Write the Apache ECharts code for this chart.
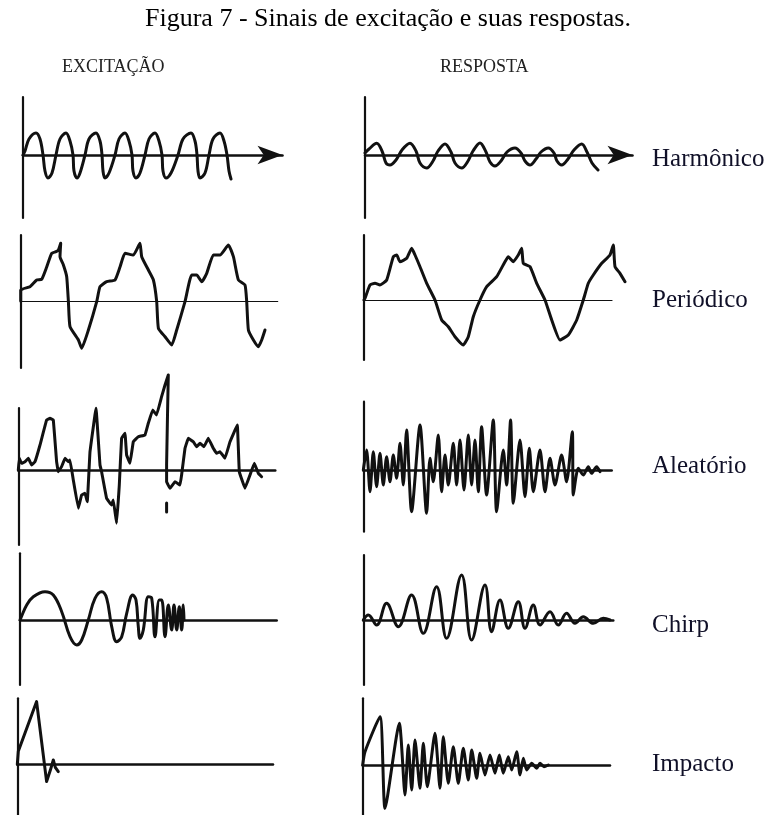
<!DOCTYPE html>
<html>
<head>
<meta charset="utf-8">
<script src="https://cdn.jsdelivr.net/npm/echarts@6/dist/echarts.min.js"></script>
<style>
html,body{margin:0;padding:0;background:#fff;}
#chart{width:773px;height:815px;}
</style>
</head>
<body>
<div id="chart"></div>
<script>
// ---- texts ----
var figureTitle = 'Figura 7 - Sinais de excitação e suas respostas.';
var columnHeaders = ['EXCITAÇÃO', 'RESPOSTA'];
var signalNames = ['Harmônico', 'Periódico', 'Aleatório', 'Chirp', 'Impacto'];

// ---- digitized signals: [time, amplitude] (arbitrary units) ----
var excHarmonic = [[0,0],[2,4],[6,16],[13,22],[17,16],[20,0],[22,-16],[25,-23],[29,-18],[33,0],[37,16],[43,22],[47,14],[50,0],[51,-16],[54,-23],[57,-18],[62,0],[66,16],[73,22],[77,14],[79,0],[80,-16],[82,-23],[86,-18],[92,0],[96,16],[102,22],[106,14],[109,0],[110,-16],[113,-23],[117,-18],[122,0],[126,16],[132,22],[136,14],[139,0],[140,-16],[143,-23],[148,-18],[155,0],[160,16],[168,22],[172,14],[174,0],[175,-16],[177,-23],[182,-18],[186,0],[190,16],[197,22],[201,14],[204,0],[206,-16],[208,-24]];
var resHarmonic = [[0,2],[4,6],[11.7,11.7],[17,4],[21,-8],[25,-10],[31,-5],[37,5],[45,11.7],[51,4],[55,-8],[61.7,-13],[68,-6],[73,4],[80,11],[86,3],[90,-8],[96.7,-13],[103,-6],[108,4],[115,12],[121,3],[125,-7],[130,-11],[136,-6],[142,3],[150,7],[156,2],[160,-6],[165,-10],[171,-4],[176,3],[183.3,7],[189,2],[192,-6],[196.7,-10],[203,-4],[209,5],[216.7,11],[222,3],[227,-8],[233,-15]];

var excPeriodic = [[0,0],[0,11],[9.3,14.3],[16,21],[21,21.7],[26,34],[31,47.7],[35.3,49.3],[37.7,51],[40,57.7],[39.3,44.3],[42.7,36],[46,24.3],[47.7,-0.7],[49.3,-25.7],[57.7,-39],[61,-47.3],[67.7,-29],[76,-0.7],[79.3,14.3],[86,19.3],[94.3,21],[99.3,34],[104.3,47.7],[112.7,46],[119.3,57.7],[121,44.3],[127.7,31],[132.7,21],[136,-0.7],[137.7,-27.3],[144.3,-35.7],[151,-44],[156,-29],[164.3,-0.7],[171,26],[176,26],[181,19.3],[186,27.7],[192.7,46],[199.3,46],[207.7,56],[212.7,44.3],[217.7,21],[224.3,16],[226,-0.7],[227.7,-29],[232.7,-39],[237.7,-45.7],[241,-39],[244.3,-29]];
var resPeriodic = [[0,0],[1,1.7],[6,15],[11,16.7],[16,15],[22.7,20],[29.3,43.3],[32.7,45],[36,38.3],[42.7,41.7],[47.7,51.7],[51,45],[56,33.3],[62.7,16.7],[71,0],[77.7,-20],[84.3,-26.7],[91,-36.7],[99.3,-45],[104.3,-36.7],[109.3,-16.7],[116,0],[122.7,13.3],[132.7,23.3],[141,38.3],[144.3,43.3],[149.3,38.3],[154.3,45],[157.7,51.7],[159.3,36.7],[166,33.3],[172.7,16.7],[181,0],[187.7,-20],[196,-40],[204.3,-35],[212.7,-20],[219.3,0],[224.3,16.7],[229.3,25],[237.7,36.7],[246,45],[249.3,55],[251,33.3],[256,26.7],[261,18.3]];

var excRandom = [[0,0],[1,11.7],[3.3,6.7],[6.7,8.3],[10,11.7],[13.3,5],[16.7,8.3],[21.7,25],[28.3,50],[31.7,51.7],[35,50],[38.3,8.3],[40,-1.7],[43.3,3.3],[46.7,11.7],[50,8.3],[51.7,10],[55,-10],[60,-38.3],[63.3,-25],[66.7,-23.3],[69,-31.7],[71.7,18.3],[77.7,61.7],[81.7,5],[83.3,-1.7],[88.3,-28.3],[93.3,-35],[95,-30],[98.3,-53.3],[101,-15],[103.3,31.7],[106.7,36.7],[108.3,15],[111.7,6.7],[115,28.3],[120,33.3],[126.7,35],[130,46.7],[134.3,60],[138.3,55],[143.3,73.3],[146.7,85],[150,95],[148.3,5],[148.3,-11.7],[151.7,-18.3],[156.7,-11.7],[161.7,-15],[163.3,-5],[166.7,21.7],[170,31.7],[175,28.3],[178.3,23.3],[181.7,26.7],[185.7,23.3],[190,31.7],[195,21.7],[198.3,16.7],[201.7,18.3],[206.7,11.7],[211.7,28.3],[219,45],[221,-1.7],[226.7,-18.3],[231.7,-5],[236,6.7],[240,-3.3],[243.3,-6.7]];
var excRandomFragment = [[148.3,-33],[148.3,-42]];
var resRandom = [[0,0],[3.3,20],[6.7,-21.7],[10,18.3],[13.3,-16.7],[16.7,16.7],[20,-15],[23.3,13.3],[26.7,-11.7],[30,15],[33.3,-8.3],[36.7,26.7],[40,-15],[43.3,40],[48.3,-41.7],[56.7,45],[63.3,-43.3],[66.7,11.7],[70,-11.7],[75,35],[78.3,-21.7],[81.7,15],[85,-15],[90,26.7],[93.3,-15],[96.7,30],[100.7,-20],[105,35],[108.3,-15],[111.7,30],[115,-21.7],[118.3,43.3],[123.3,-25],[130,50],[133.3,-41.7],[140,20],[143.3,-15],[147.3,50],[150,-33.3],[156.7,30],[161.7,-26.7],[166,21.7],[170,-21.7],[176.7,20],[181.7,-21.7],[186.7,11.7],[191.7,-15],[198.3,15],[203.3,-11.7],[209,38.3],[210,-25],[215,1.7],[220,-5],[225,3.3],[228.3,-3.3],[233.3,3.3],[236.7,-1.7]];

var excChirp = [[0,0],[0.7,1.7],[6.7,15],[13.3,23.3],[25,28.3],[33.3,25],[41.7,8.3],[50,-16.7],[56.7,-25],[61.7,-20],[68.3,0],[75,21.7],[81.7,28.3],[86.7,21.7],[91.7,-6.7],[96.7,-21.7],[101.7,-16.7],[106.7,6.7],[112.7,25],[116,20],[118.3,-6.7],[120,-18.3],[123.3,-10],[128.3,23.3],[131.7,21.7],[135,-16.7],[139.3,20],[141.7,20],[145,-16.7],[148.3,15],[151.7,-10],[154,15],[156.7,-10],[159.3,13.3],[161.7,-10],[163.3,15],[164,0]];
var resChirp = [[0,0],[5,5],[13.3,-5],[23.3,16.7],[35,-6.7],[48.3,25],[60,-13.3],[73.3,33.3],[83.3,-18.3],[98.3,45],[108.3,-20],[121.7,35],[128.3,-11.7],[136.7,20],[145,-8.3],[155,18.3],[161.7,-8.3],[170,15],[176.7,-5],[186.7,8.3],[195,-5],[203.3,6.7],[211.7,-3.3],[220,3.3],[230,-3.3],[240,1.7],[246.7,0]];

var excImpact = [[0,0],[1,13],[19.3,62.7],[29.3,-17.3],[33,-6],[36,4.3],[38,-3],[41,-7.3]];
var resImpact = [[0,0],[2.3,13.3],[17.3,48.3],[22.3,-43.3],[36.6,41.7],[42.3,-30],[45.6,20],[49,-25],[52.3,25],[57.3,-23.3],[60.6,21.7],[64.6,-21.7],[72.3,31.7],[77.3,-23.3],[80.6,28.3],[85.6,-18.3],[90.6,18.3],[95.6,-18.3],[100.6,16.7],[105.6,-15],[109,15],[114,-13.3],[117.3,11.7],[122.3,-10],[127.3,10],[132.3,-8.3],[136.6,10],[140.6,-8.3],[145.6,8.3],[149,-5],[154,13.3],[157.3,-10],[160.6,6.7],[164,-5],[169,1.7],[174,-3.3],[177.3,1.7],[181.3,-1.7],[185.6,0]];

// ---- panel layout (pixels) ----
var panels = [
  {left:23,   top:97,    width:259.5, height:121,   yMin:-63,   yMax:58,   base:2.5, arrow:true,  smooth:0.35, data:[excHarmonic]},
  {left:365,  top:97,    width:267.5, height:121,   yMin:-63,   yMax:58,   base:2.5, arrow:true,  smooth:0.35, data:[resHarmonic]},
  {left:20.7, top:235,   width:257,   height:133,   yMin:-67,   yMax:66,   base:1.2, arrow:false, smooth:0.15, data:[excPeriodic]},
  {left:364,  top:235,   width:248,   height:125,   yMin:-60,   yMax:65,   base:1.2, arrow:false, smooth:0.15, data:[resPeriodic]},
  {left:18.3, top:408,   width:257,   height:137,   yMin:-75,   yMax:62,   base:2.5, arrow:false, smooth:0.05, data:[excRandom, excRandomFragment]},
  {left:363.3,top:401.7, width:248.4, height:130,   yMin:-61.7, yMax:68.3, base:2.5, arrow:false, smooth:0.25, data:[resRandom]},
  {left:20,   top:553.3, width:256.7, height:131.7, yMin:-65,   yMax:66.7, base:2.5, arrow:false, smooth:0.4,  data:[excChirp]},
  {left:363.3,top:555,   width:250,   height:130,   yMin:-65,   yMax:65,   base:2.5, arrow:false, smooth:0.4,  data:[resChirp]},
  {left:17.3, top:698.3, width:255.7, height:116.7, yMin:-50.7, yMax:66,   base:2.5, arrow:false, smooth:0,    data:[excImpact]},
  {left:362.7,top:698.3, width:247.3, height:116.7, yMin:-50,   yMax:66.7, base:2.5, arrow:false, smooth:0.2,  data:[resImpact]}
];

var ink = '#111';
var serif = '"Liberation Serif","Times New Roman",serif';
var grids = [], xAxes = [], yAxes = [], series = [];
var hiddenAxis = {axisLine:{show:false}, axisTick:{show:false}, axisLabel:{show:false}, splitLine:{show:false}};
panels.forEach(function (p) {
  // visible axes of the panel
  var gi = grids.length;
  grids.push({left:p.left, top:p.top, width:p.width, height:p.height});
  xAxes.push({
    type:'value', gridIndex:gi, min:0, max:p.width,
    axisLine:{show:true, onZero:true, symbol:p.arrow ? ['none','arrow'] : ['none','none'], symbolSize:[14,25],
      lineStyle:{color:ink, width:p.base}},
    axisTick:{show:false}, axisLabel:{show:false}, splitLine:{show:false}
  });
  yAxes.push({
    type:'value', gridIndex:gi, min:p.yMin, max:p.yMax,
    axisLine:{show:true, onZero:false, lineStyle:{color:ink, width:2.2}},
    axisTick:{show:false}, axisLabel:{show:false}, splitLine:{show:false}
  });
  // same scale, wide enough for the whole trace
  var span = p.width;
  p.data.forEach(function (d) { d.forEach(function (pt) { if (pt[0] > span) span = pt[0]; }); });
  var di = grids.length;
  grids.push({left:p.left, top:p.top, width:span, height:p.height});
  xAxes.push(Object.assign({type:'value', gridIndex:di, min:0, max:span}, hiddenAxis));
  yAxes.push(Object.assign({type:'value', gridIndex:di, min:p.yMin, max:p.yMax}, hiddenAxis));
  p.data.forEach(function (d) {
    series.push({
      type:'line', xAxisIndex:di, yAxisIndex:di, data:d, showSymbol:false, symbol:'none',
      smooth:p.smooth, clip:false, silent:true,
      lineStyle:{color:ink, width:3, join:'round', cap:'round'}
    });
  });
});

var labelTops = [146.5, 287.5, 453.5, 612.5, 751.5];
var titles = [
  {text:figureTitle, left:145, top:6.5, padding:0, textStyle:{fontFamily:serif, fontSize:26, fontWeight:'normal', color:'#000'}},
  {text:columnHeaders[0], left:62, top:58.5, padding:0, textStyle:{fontFamily:serif, fontSize:18, fontWeight:'normal', color:'#222'}},
  {text:columnHeaders[1], left:440, top:58.5, padding:0, textStyle:{fontFamily:serif, fontSize:18, fontWeight:'normal', color:'#222'}}
];
signalNames.forEach(function (n, i) {
  titles.push({text:n, left:652, top:labelTops[i], padding:0, textStyle:{fontFamily:serif, fontSize:25, fontWeight:'normal', color:'#101028'}});
});

var chart = echarts.init(document.getElementById('chart'), null, {renderer:'canvas'});
chart.setOption({
  animation:false,
  backgroundColor:'#fff',
  title:titles,
  grid:grids, xAxis:xAxes, yAxis:yAxes, series:series
});
</script>
</body>
</html>
